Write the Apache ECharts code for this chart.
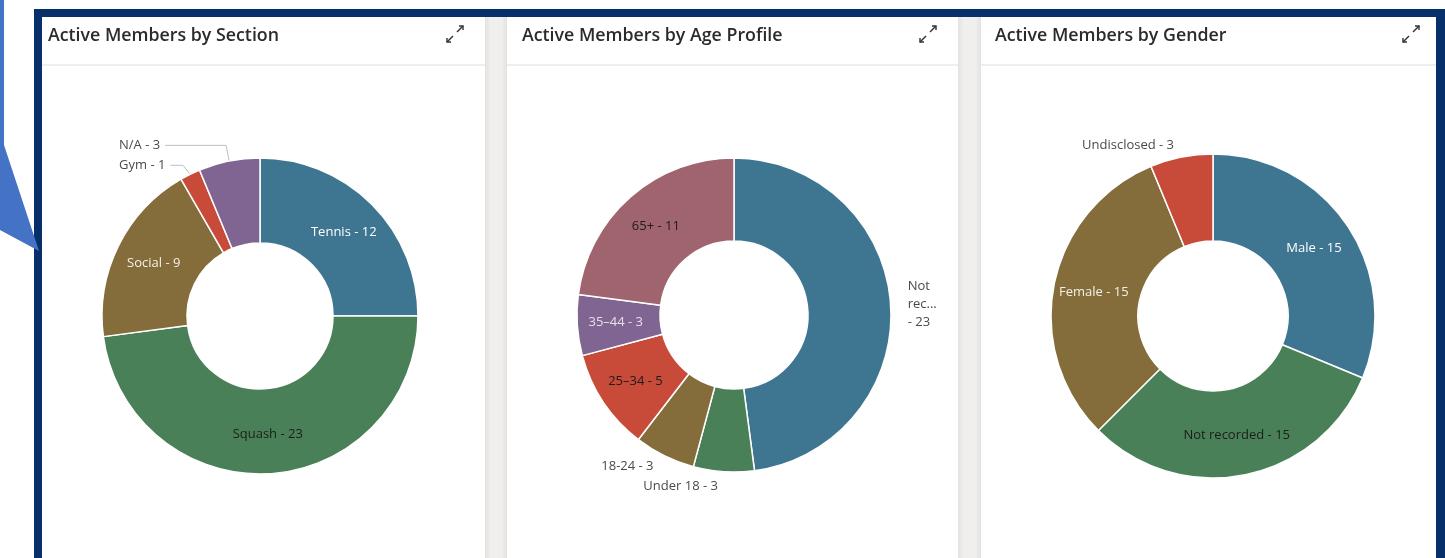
<!DOCTYPE html>
<html>
<head>
<meta charset="utf-8">
<title>Active Members</title>
<script src="https://cdn.jsdelivr.net/npm/echarts@6/dist/echarts.min.js"></script>
<style>
  html, body { margin: 0; padding: 0; background: #fff; }
  #main { width: 1445px; height: 558px; }
</style>
</head>
<body>
<div id="main"></div>
<script>
// data
var sectionNames = ['Tennis', 'Squash', 'Social', 'Gym', 'N/A'];
var sectionValues = [12, 23, 9, 1, 3];
var sectionOutside = ['Gym', 'N/A'];

var ageNames = ['Not recorded', 'Under 18', '18-24', '25–34', '35–44', '65+'];
var ageValues = [23, 3, 3, 5, 3, 11];
var ageOutside = ['Not recorded', 'Under 18', '18-24'];

var genderNames = ['Male', 'Not recorded', 'Female', 'Undisclosed'];
var genderValues = [15, 15, 15, 3];
var genderOutside = ['Undisclosed'];

var titles = ['Active Members by Section', 'Active Members by Age Profile', 'Active Members by Gender'];

// palette used by the dashboard, in slice order
var colors = ['#3e7691', '#4a8058', '#846d3b', '#c84b3a', '#806592', '#a0646e'];
var insideText = ['#ffffff', '#1c1c1c', '#f4f0e8', '#1c1c1c', '#e6e0ea', '#1c1c1c'];
// the app shortens long outside labels
var shortLabels = { 'Not recorded': 'Not\nrec...\n' };

var FONT = '"Open Sans", Lato, sans-serif';

function buildData (names, values, outside, lineShow) {
  return names.map(function (n, i) {
    var isOut = outside.indexOf(n) >= 0;
    var item = {
      name: n,
      value: values[i],
      itemStyle: { color: colors[i] },
      label: isOut ? {
        position: 'outside',
        color: '#4a4a4a'
      } : {
        position: 'inside',
        color: insideText[i]
      }
    };
    if (isOut && !lineShow) item.labelLine = { show: false };
    return item;
  });
}

function labelText (p) {
  if (p.data.label.position === 'outside' && shortLabels[p.name] && p.seriesIndex === 1) {
    return shortLabels[p.name] + '- ' + p.value;
  }
  return p.name + ' - ' + p.value;
}

function pie (center, radius, data, extra) {
  var s = {
    type: 'pie',
    center: center,
    radius: radius,
    startAngle: 90,
    avoidLabelOverlap: true,
    silent: true,
    itemStyle: { borderColor: '#ffffff', borderWidth: 1.5 },
    label: {
      fontFamily: FONT,
      fontSize: 13,
      lineHeight: 18,
      formatter: labelText
    },
    labelLine: {
      length: 12,
      length2: 0,
      smooth: false,
      lineStyle: { color: '#b9c0c8', width: 1 }
    },
    data: data
  };
  return Object.assign(s, extra || {});
}

// expand icon (two small diagonal arrows)
function expandIcon (cx, cy) {
  var st = { stroke: '#333', lineWidth: 1.4, fill: null };
  return [
    { type: 'line', shape: { x1: cx + 2, y1: cy - 2, x2: cx + 8, y2: cy - 8 }, style: st },
    { type: 'polyline', shape: { points: [[cx + 4, cy - 8], [cx + 8, cy - 8], [cx + 8, cy - 4]] }, style: st },
    { type: 'line', shape: { x1: cx - 2, y1: cy + 2, x2: cx - 8, y2: cy + 8 }, style: st },
    { type: 'polyline', shape: { points: [[cx - 8, cy + 4], [cx - 8, cy + 8], [cx - 4, cy + 8]] }, style: st }
  ];
}

var panels = [
  { x: 42, w: 443, titleX: 48, iconX: 455 },
  { x: 507, w: 451, titleX: 522, iconX: 928 },
  { x: 981, w: 455, titleX: 995, iconX: 1411 }
];

var gfx = [
  // navy frame
  { type: 'rect', shape: { x: 34, y: 9, width: 1411, height: 560 }, style: { fill: '#07306b' } },
  { type: 'rect', shape: { x: 42, y: 17, width: 1394, height: 560 }, style: { fill: '#efedeb' } },
  // callout pointer on the left
  { type: 'polygon', shape: { points: [[0, 0], [4, 0], [4, 145], [39, 251], [0, 230]] }, style: { fill: '#4472c4' } }
];

// gutters between panels
[[485, 22], [958, 23]].forEach(function (g) {
  gfx.push({
    type: 'rect', shape: { x: g[0], y: 17, width: g[1], height: 560 },
    style: {
      fill: new echarts.graphic.LinearGradient(0, 0, 1, 0, [
        { offset: 0, color: '#e4e2e0' },
        { offset: 0.25, color: '#f1efed' },
        { offset: 0.75, color: '#f1efed' },
        { offset: 1, color: '#e4e2e0' }
      ])
    }
  });
});

panels.forEach(function (p, i) {
  gfx.push({ type: 'rect', shape: { x: p.x, y: 17, width: p.w, height: 560 }, style: { fill: '#ffffff' } });
  gfx.push({ type: 'rect', shape: { x: p.x, y: 64, width: p.w, height: 2 }, style: { fill: '#eeeeee' } });
  gfx.push({
    type: 'text', x: p.titleX, y: 36,
    style: { text: titles[i], font: '600 17.8px ' + FONT, fill: '#2b2b2b', textVerticalAlign: 'middle' }
  });
  gfx = gfx.concat(expandIcon(p.iconX, 34));
});

var chart = echarts.init(document.getElementById('main'));
chart.setOption({
  animation: false,
  graphic: { elements: gfx },
  series: [
    pie([260, 316], [73, 158], buildData(sectionNames, sectionValues, sectionOutside, true), {
      labelLine: { length: 16, length2: 4, smooth: false, lineStyle: { color: '#b9c0c8', width: 1 } },
      label: {
        fontFamily: FONT, fontSize: 13, lineHeight: 18,
        alignTo: 'edge', edgeDistance: 119, overflow: 'none',
        formatter: labelText
      }
    }),
    pie([734, 315], [74, 157], buildData(ageNames, ageValues, ageOutside, false)),
    pie([1213, 316], [75, 162], buildData(genderNames, genderValues, genderOutside, false))
  ]
});
</script>
</body>
</html>
